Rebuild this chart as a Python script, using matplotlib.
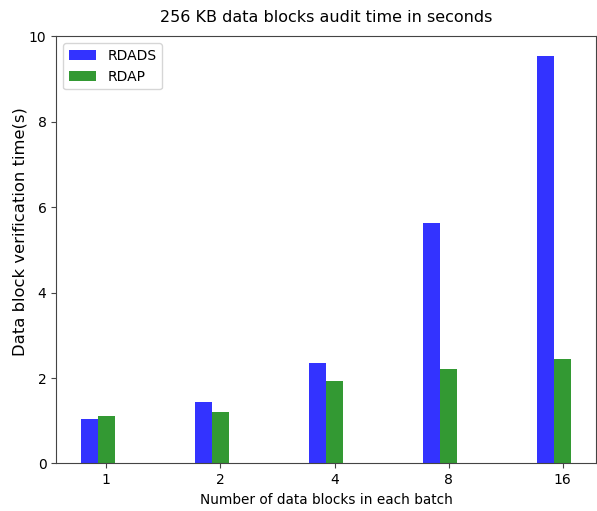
import numpy as np
import matplotlib
matplotlib.use("Agg")
import matplotlib.pyplot as plt

categories = ["1", "2", "4", "8", "16"]
rdads = [1.05, 1.44, 2.35, 5.62, 9.55]
rdap = [1.10, 1.20, 1.93, 2.22, 2.45]

fig = plt.figure(figsize=(5.97, 5.11), dpi=100)
ax = fig.add_axes([0.094, 0.093, 0.904, 0.836])

x = np.arange(len(categories))
w = 0.15
ax.bar(x - w, rdads, w, color="b", alpha=0.8, label="RDADS")
ax.bar(x, rdap, w, color="g", alpha=0.8, label="RDAP")

ax.set_xticks(x)
ax.set_xticklabels(categories)
ax.set_ylim(0, 10)
ax.set_yticks([0, 2, 4, 6, 8, 10])
for s in ax.spines.values():
    s.set_color("#444444")
ax.tick_params(colors="#444444", labelcolor="black", labelsize=10)
ax.set_title("256 KB data blocks audit time in seconds", fontsize=11.5, pad=10)
ax.set_xlabel("Number of data blocks in each batch", fontsize=9.8)
ax.set_ylabel("Data block verification time(s)", fontsize=11.8)
ax.yaxis.set_label_coords(-0.053, 0.542)
ax.legend(loc="upper left", fontsize=10)

fig.savefig("out.png", dpi=100)
